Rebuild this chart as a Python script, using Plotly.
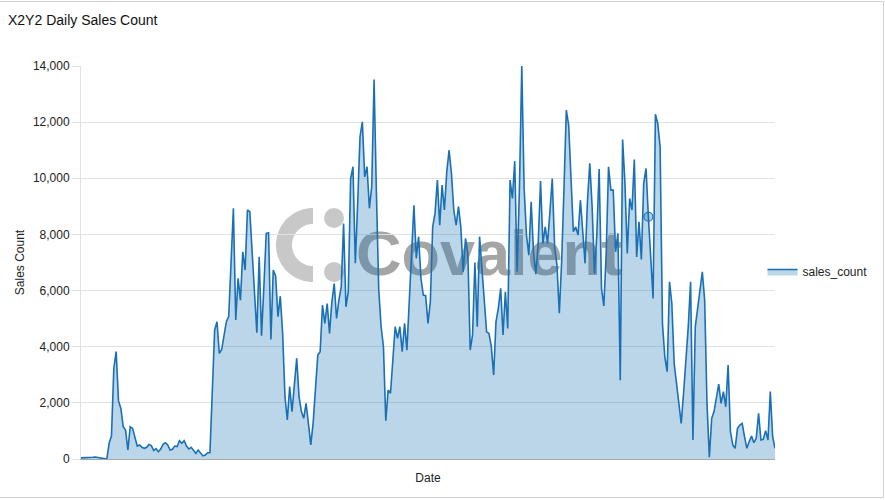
import numpy as np
import pandas as pd
import plotly.graph_objects as go

# ---------------- data ----------------
sales_p1 = [40, 40, 50, 60, 50, 60, 70, 60, 50, 40, 30, 0, 560, 820, 3230, 3825, 2070, 1800,
            1150, 1030, 320, 1150, 1090, 800, 460, 500, 415, 380, 415, 520, 475, 300, 370, 260,
            355, 520, 580, 500, 320, 345, 460, 440, 650, 560, 650, 460, 355, 415, 320, 200, 320,
            200, 110, 140, 225, 225]
sales_p2 = [2400, 4590, 4890, 3760, 3900, 4475, 4890, 5070, 7200, 8930, 4950, 6440, 5660, 7380,
            6730, 8870, 8810, 7440, 5800, 4500, 7200, 4390, 6140, 8040, 8060, 4260, 6730, 6520,
            5070, 5800, 4475, 2220, 1390, 2580, 1690, 2580, 3585, 2220, 1690, 1450, 1980, 1270,
            500, 1270, 2460, 3700, 3820, 5480, 4830, 5540, 4475, 5600]
sales_p3 = [6250, 5010, 5660, 6140, 8390, 5420, 5960, 9990, 10410, 6970, 9100, 11480, 12010,
            10050, 10410, 8930, 9700, 13520, 9460, 6020, 4710, 4000, 1365, 2460, 2340, 3525,
            4710, 4300, 4710, 3820, 4830, 3880, 5420, 7320]
sales_p4 = [9040, 7150, 7920, 6430, 5840, 5820, 4830, 5600, 8270, 8750, 9935, 8330, 9760, 8870,
            10230, 11000, 10170, 8870, 8330, 8990, 8270, 6670, 7860, 7320, 3880, 4420, 7000,
            4710, 7920, 6850, 5780, 4530, 4475, 4000]
sales_p5 = [2990, 4890, 5370, 6080, 4420, 5960, 4650, 9935, 9280, 10610, 6670, 9640, 13995, 9640,
            7980, 7260, 9160, 7380, 6580, 7680, 9900, 7680, 8270, 7680, 8810, 9990, 7560, 6910,
            5190, 7030, 9640, 12430, 11890, 9880, 8100, 8270, 7980, 9220, 7980, 6970, 9160,
            10530, 9000, 6610, 7980, 10330, 6080]
sales_p6 = [5450, 7320, 10410, 9580, 9580, 7380, 8040, 2810, 11380, 9820, 7320, 9280, 8870,
            10670, 7200, 8450, 7110, 9820, 10350, 8630, 7200, 5720, 12285, 11950, 11120, 4830,
            3640, 3110, 6310, 5540, 3400, 2635, 2040, 1270, 2340, 3525, 4710, 6310, 680]
sales_p7 = [4710, 5420, 5900, 6670, 5660, 1980, 60, 1450, 1690, 2220, 2670, 1980, 2400, 1860,
            3350, 970, 500, 380, 1090, 1210, 1270, 795, 380, 620, 820, 580, 735, 1625, 675, 700,
            1010, 675, 2400, 795, 380]

sales_count = sales_p1 + sales_p2 + sales_p3 + sales_p4 + sales_p5 + sales_p6 + sales_p7
dates = pd.date_range("2022-02-15", periods=len(sales_count), freq="D")

hover_idx = len(sales_p1 + sales_p2 + sales_p3 + sales_p4 + sales_p5) + 19

y_ticks = [0, 2000, 4000, 6000, 8000, 10000, 12000, 14000]
y_tick_text = ["0", "2,000", "4,000", "6,000", "8,000", "10,000", "12,000", "14,000"]

# ---------------- layout geometry ----------------
W, H = 885, 500
L, R, T, B = 81, 110, 66, 41
PW, PH = W - L - R, H - T - B

def px(x):
    return (x - L) / PW

def py(y):
    return (H - B - y) / PH

FONT = "Liberation Sans, Arial, Helvetica, sans-serif"
LINE = "#1a70b5"

fig = go.Figure()
fig.add_trace(go.Scatter(
    x=dates, y=sales_count, name="sales_count", mode="lines",
    line=dict(color=LINE, width=1.6), fill="tozeroy",
    fillcolor="rgba(31,119,180,0.3)",
))
fig.add_trace(go.Scatter(
    x=[dates[hover_idx]], y=[sales_count[hover_idx]], mode="markers", showlegend=False,
    marker=dict(size=9, color="rgba(31,119,180,0.35)", line=dict(color=LINE, width=1.2)),
))

# ---------------- watermark (Covalent logo), below grid ----------------
shapes = []
cx, cy, r_out, r_in = 313, 245, 37, 21
ang = np.linspace(np.pi / 2, 3 * np.pi / 2, 40)
outer = [(cx + r_out * np.cos(a), cy - r_out * np.sin(a)) for a in ang]
inner = [(cx + r_in * np.cos(a), cy - r_in * np.sin(a)) for a in ang[::-1]]
pts = outer + inner
path = "M " + " L ".join(f"{px(x):.5f},{py(y):.5f}" for x, y in pts) + " Z"
shapes.append(dict(type="path", path=path, xref="paper", yref="paper", layer="below",
                   fillcolor="rgb(200,200,200)", line=dict(width=0)))
for dy in (-27, 27):
    shapes.append(dict(type="circle", xref="paper", yref="paper", layer="below",
                       x0=px(334 - 10), x1=px(334 + 10), y0=py(cy + dy + 10), y1=py(cy + dy - 10),
                       fillcolor="rgb(200,200,200)", line=dict(width=0)))
shapes.append(dict(type="rect", xref="paper", yref="paper", layer="below",
                   x0=px(362), x1=px(616), y0=py(276), y1=py(218),
                   fillcolor="rgba(0,0,0,0)", line=dict(width=0),
                   label=dict(text="Covalent", textposition="middle center",
                              font=dict(family=FONT, size=63, color="rgb(165,165,165)",
                                        weight="bold"))))
# outer container border
shapes.append(dict(type="rect", xref="paper", yref="paper", layer="above",
                   x0=px(-3), x1=px(883.5), y0=py(497.5), y1=py(1.5),
                   line=dict(color="#d0d0d0", width=1), fillcolor="rgba(0,0,0,0)"))

fig.update_layout(
    width=W, height=H,
    margin=dict(l=L, r=R, t=T, b=B, autoexpand=False),
    paper_bgcolor="white", plot_bgcolor="white",
    font=dict(family=FONT, size=12, color="#222"),
    title=dict(text="X2Y2 Daily Sales Count", x=8 / W, xanchor="left", xref="container",
               y=1 - 20.5 / H, yanchor="middle", yref="container",
               font=dict(size=14, color="#111")),
    showlegend=True,
    legend=dict(x=0.982, xanchor="left", y=0.477, yanchor="middle", itemwidth=30,
                font=dict(size=12, color="#222"), bgcolor="rgba(0,0,0,0)"),
    shapes=shapes,
    hovermode="x",
)
fig.update_xaxes(
    showticklabels=False, showgrid=False, ticks="",
    showline=True, linecolor="#a8a8a8", linewidth=1,
    title=dict(text="Date", font=dict(size=12, color="#222"), standoff=14),
    zeroline=False,
)
fig.update_yaxes(
    range=[0, 14000], tickvals=y_ticks, ticktext=y_tick_text,
    showgrid=True, gridcolor="#e2e2e2", gridwidth=1,
    ticks="outside", ticklen=8, tickcolor="#e2e2e2",
    showline=True, linecolor="#e2e2e2", linewidth=1,
    zeroline=False,
    tickfont=dict(size=12, color="#222"),
    title=dict(text="Sales Count", font=dict(size=12, color="#222"), standoff=5),
)

fig.write_html("out.html", config={"displayModeBar": False},
               post_script="document.body.style.margin='0';")
